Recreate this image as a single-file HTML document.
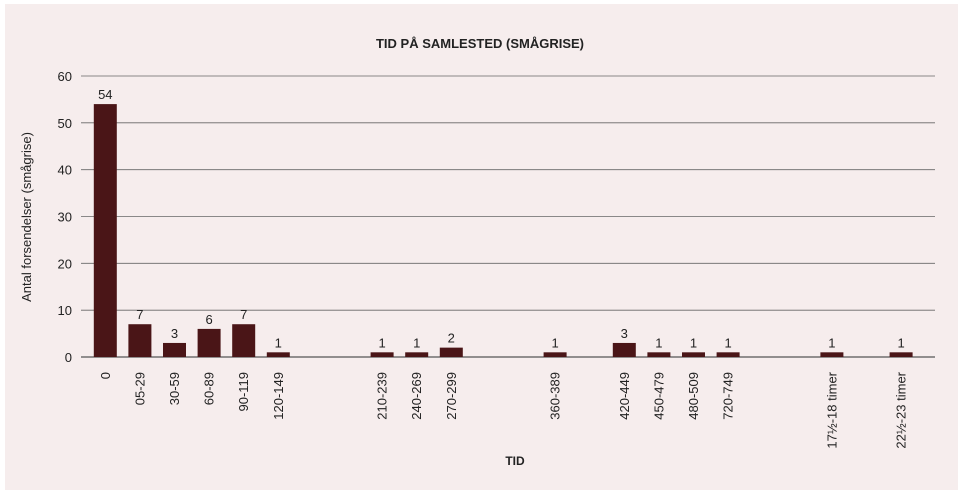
<!DOCTYPE html>
<html><head><meta charset="utf-8"><style>
body{margin:0;background:#fff;font-family:"Liberation Sans",sans-serif;}
svg{display:block}
</style></head><body>
<svg width="963" height="494">
<rect x="5" y="4" width="953" height="486" fill="#f6eded"/>
<text x="480" y="48" text-anchor="middle" font-size="13" font-weight="bold" fill="#222">TID PÅ SAMLESTED (SMÅGRISE)</text>
<g id="grid"></g><g id="bars"></g><g id="xl"></g>
<text transform="translate(31,217) rotate(-90)" text-anchor="middle" font-size="13" fill="#222">Antal forsendelser (smågrise)</text>
<text x="515" y="465" text-anchor="middle" font-size="12" font-weight="bold" fill="#222">TID</text>
</svg>
<script>
const categories=["0","05-29","30-59","60-89","90-119","120-149","","","210-239","240-269","270-299","","","360-389","","420-449","450-479","480-509","720-749","","","17½-18 timer","","22½-23 timer"];
const values=[54,7,3,6,7,1,null,null,1,1,2,null,null,1,null,3,1,1,1,null,null,1,null,1];
const yTicks=[0,10,20,30,40,50,60];
const NS="http://www.w3.org/2000/svg";
const x0=88,band=34.6,y0=357,ppu=(357-76)/60;
const x=i=>x0+band*(i+0.5), y=v=>y0-v*ppu;
function el(t,a,p){const e=document.createElementNS(NS,t);for(const k in a)e.setAttribute(k,a[k]);document.getElementById(p).appendChild(e);return e;}
yTicks.forEach(v=>{
 const l=el("line",{x1:81,x2:935,y1:y(v),y2:y(v),stroke:v===0?"#555":"#666","stroke-width":v===0?1.2:0.8},"grid");
 
 
 const t=el("text",{x:72,y:y(v)+5,"text-anchor":"end","font-size":13,fill:"#222"},"grid");t.textContent=v;
 
 
});
categories.forEach((c,i)=>{
 const v=values[i];
 if(v!=null){
  const r=el("rect",{x:x(i)-11.5,y:y(v),width:23,height:y0-y(v),fill:"#4a1517"},"bars");
  
  
  const t=el("text",{x:x(i),y:y(v)-5,"text-anchor":"middle","font-size":13,fill:"#222"},"bars");t.textContent=v;
  
  
 }
 if(c){
  const t=el("text",{transform:`translate(${x(i)+4.5},372) rotate(-90)`,"text-anchor":"end","font-size":13,fill:"#222"},"xl");t.textContent=c;
  
  
 }
});
</script>
</body></html>
